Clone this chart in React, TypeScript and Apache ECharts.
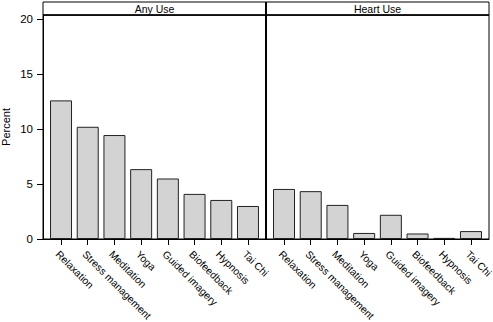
import React, { useEffect, useRef } from "react";
import * as echarts from "echarts";

const categories = ["Relaxation", "Stress management", "Meditation", "Yoga", "Guided imagery", "Biofeedback", "Hypnosis", "Tai Chi"];
const panels = ["Any Use", "Heart Use"];
const anyUse = [12.6, 10.2, 9.45, 6.35, 5.5, 4.1, 3.55, 3.0];
const heartUse = [4.55, 4.35, 3.1, 0.55, 2.2, 0.5, 0.1, 0.72];
const yTicks = [0, 5, 10, 15, 20];
const catIdx = categories.map((_, i) => i);

export default function App() {
  const ref = useRef<HTMLDivElement>(null);
  useEffect(() => {
    const chart = echarts.init(ref.current!, null, { renderer: "svg" });
    const font = "Liberation Sans, Arial, sans-serif";
    const L = 43, R = 489, SEP = 266, TOP = 15, BOT = 239, HT = 2;
    const xAxisBase = (gridIndex: number) => ({
      type: "value",
      gridIndex,
      min: -0.675,
      max: 7.675,
      splitLine: { show: false },
      axisLine: { show: true, onZero: false, lineStyle: { color: "#000", width: 1 } },
      axisTick: { show: true, customValues: catIdx, length: 6, lineStyle: { color: "#000" } },
      axisLabel: {
        customValues: catIdx,
        formatter: (v: number) => categories[Math.round(v)] ?? "",
        rotate: -45,
        align: "left",
        verticalAlign: "top",
        margin: 10,
        fontFamily: font,
        fontSize: 10.3,
        color: "#000",
      },
    });
    const yAxisBase = (gridIndex: number, show: boolean) => ({
      type: "value",
      gridIndex,
      min: 0,
      max: 20.36,
      show,
      name: show ? "Percent" : "",
      nameLocation: "middle",
      nameGap: 32,
      nameRotate: 90,
      nameTextStyle: { fontFamily: font, fontSize: 11, color: "#000" },
      splitLine: { show: false },
      axisLine: { show: true, onZero: false, lineStyle: { color: "#000" } },
      axisTick: { show: true, customValues: yTicks, length: 6, lineStyle: { color: "#000" } },
      axisLabel: { customValues: yTicks, margin: 10, fontFamily: font, fontSize: 11.5, color: "#000" },
    });
    const barSeries = (idx: number, vals: number[]) => ({
      type: "bar",
      xAxisIndex: idx,
      yAxisIndex: idx,
      barWidth: 22,
      data: vals.map((v, i) => [i, v]),
      itemStyle: { color: "#d3d3d3", borderColor: "#222", borderWidth: 1 },
    });
    chart.setOption({
      animation: false,
      grid: [
        { left: L, top: TOP, width: SEP - L, height: BOT - TOP, outerBoundsMode: "none", containLabel: false, show: true, borderColor: "#000", borderWidth: 1, backgroundColor: "transparent" },
        { left: SEP, top: TOP, width: R - SEP, height: BOT - TOP, outerBoundsMode: "none", containLabel: false, show: true, borderColor: "#000", borderWidth: 1, backgroundColor: "transparent" },
      ],
      xAxis: [xAxisBase(0), xAxisBase(1)],
      yAxis: [yAxisBase(0, true), yAxisBase(1, false)],
      series: [barSeries(0, anyUse), barSeries(1, heartUse)],
      graphic: [
        { type: "rect", shape: { x: L, y: HT, width: SEP - L, height: TOP - HT }, style: { fill: "#fff", stroke: "#000", lineWidth: 1 } },
        { type: "rect", shape: { x: SEP, y: HT, width: R - SEP, height: TOP - HT }, style: { fill: "#fff", stroke: "#000", lineWidth: 1 } },
        { type: "line", shape: { x1: L, y1: TOP, x2: R, y2: TOP }, style: { stroke: "#000", lineWidth: 1.5 } },
        { type: "line", shape: { x1: SEP, y1: HT, x2: SEP, y2: BOT }, style: { stroke: "#000", lineWidth: 2 } },
        { type: "text", x: (L + SEP) / 2, y: (HT + TOP) / 2 + 0.5, style: { text: panels[0], fontFamily: font, fontSize: 10.5, fill: "#000", align: "center", verticalAlign: "middle" } },
        { type: "text", x: (SEP + R) / 2, y: (HT + TOP) / 2 + 0.5, style: { text: panels[1], fontFamily: font, fontSize: 10.5, fill: "#000", align: "center", verticalAlign: "middle" } },
      ],
    });
    return () => chart.dispose();
  }, []);
  return <div ref={ref} style={{ width: 493, height: 322, position: "absolute", left: 0, top: 0, background: "#fff" }} />;
}
